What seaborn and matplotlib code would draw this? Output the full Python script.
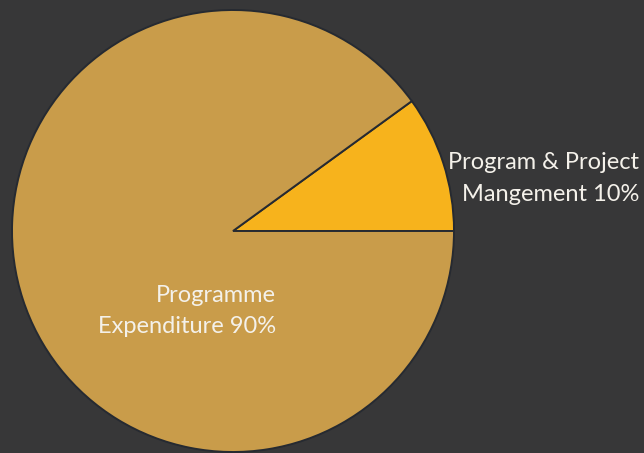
import matplotlib
matplotlib.use("Agg")
import matplotlib.pyplot as plt
import seaborn as sns

# data
labels = ["Program & Project\nMangement", "Programme\nExpenditure"]
shares = [10, 90]
slice_colors = ["#f7b31c", "#c99c4a"]

bg = "#373738"
sns.set_theme(style="dark", rc={"figure.facecolor": bg, "axes.facecolor": bg})
plt.rcParams["font.family"] = ["Lato", "DejaVu Sans"]

fig = plt.figure(figsize=(6.44, 4.53), dpi=100)
ax = fig.add_axes([0, 0, 1, 1])

ax.pie(shares, colors=slice_colors, startangle=0, counterclock=True,
       radius=1.0, center=(0, 0),
       wedgeprops={"edgecolor": "#262a31", "linewidth": 1.4})

# 221 px per data unit, pie centre at pixel (233, 231)
ax.set_xlim(-233 / 221, (644 - 233) / 221)
ax.set_ylim(-(453 - 231) / 221, 231 / 221)
ax.set_aspect("auto")
ax.axis("off")

# anchor = baseline of the last line, right edge
label_pos = [(1.837, 0.136), (0.195, -0.462)]
for (x, y), lab, val in zip(label_pos, labels, shares):
    ax.text(x, y, f"{lab} {val}%", ha="right", va="baseline",
            fontsize=17, fontweight="normal", color="#f4f1ea",
            linespacing=1.62)

fig.savefig("out.png", dpi=100, facecolor=bg)
